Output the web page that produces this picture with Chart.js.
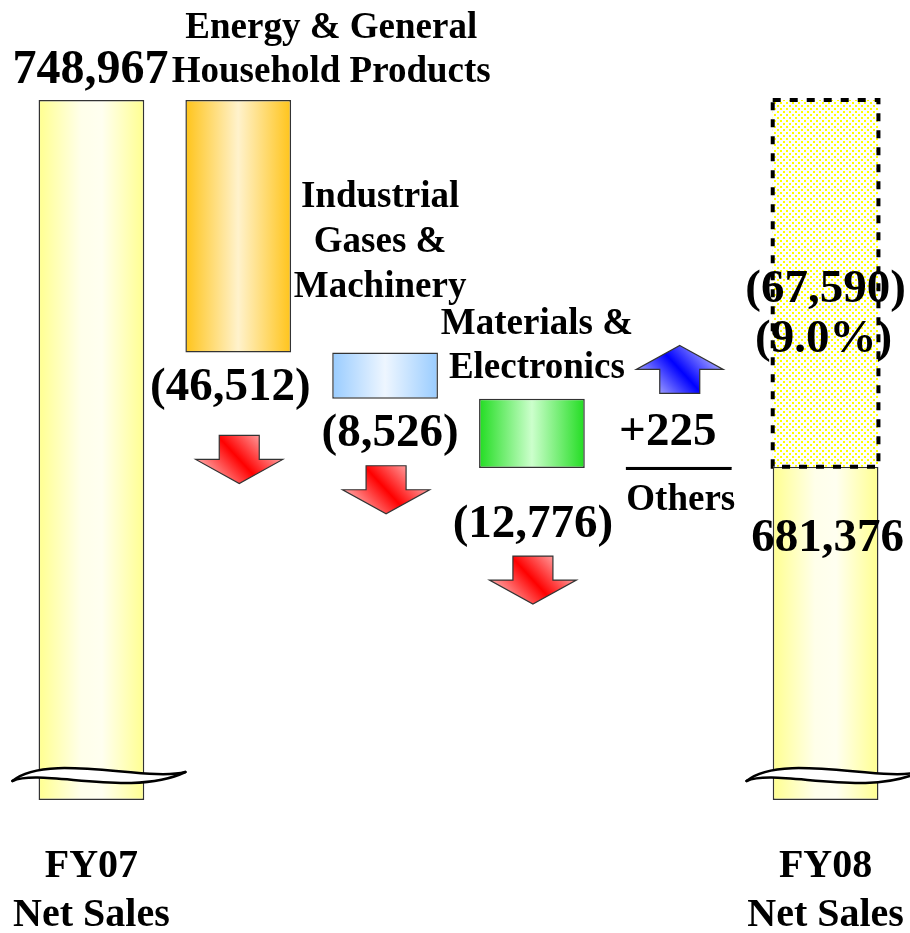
<!DOCTYPE html>
<html><head><meta charset="utf-8">
<script src="https://cdn.jsdelivr.net/npm/chart.js@4"></script>
<style>html,body{margin:0;padding:0;background:#fff;} canvas{display:block}</style>
</head><body>
<canvas id="c" width="910" height="933"></canvas>
<script>
// ---- data ----
const categories = ['FY07 Net Sales', 'Energy & General Household Products', 'Industrial Gases & Machinery', 'Materials & Electronics', 'Others', 'FY08 Net Sales'];
const startTotal = 748967;
const changes = [-46512, -8526, -12776, 225];
const endTotal = 681376;
const gapValue = 67590;
const axisMin = 620000;
const axisMax = 748967;
const valueLabels = ['748,967', '(46,512)', '(8,526)', '(12,776)', '+225', '681,376'];
const nameLines = [['FY07', 'Net Sales'], ['Energy & General', 'Household Products'], ['Industrial', 'Gases &', 'Machinery'], ['Materials &', 'Electronics'], ['Others'], ['FY08', 'Net Sales']];
const gapLabels = ['(67,590)', '(9.0%)'];

// floating ranges built from the values
const ranges = [[axisMin, startTotal]];
let running = startTotal;
changes.forEach(c => { const nxt = running + c; ranges.push([Math.min(running, nxt), Math.max(running, nxt)]); running = nxt; });
ranges.push([axisMin, endTotal]);
const gapData = categories.map((_, i) => i === categories.length - 1 ? [endTotal, endTotal + gapValue] : null);

// ---- styles ----
const gradStops = [
  [[0, '#ffff90'], [0.4, '#ffffea'], [0.6, '#fffff0'], [1, '#ffff90']],
  [[0, '#ffc41a'], [0.5, '#fff2cc'], [1, '#ffc41a']],
  [[0, '#99ccff'], [0.5, '#eef6ff'], [1, '#99ccff']],
  [[0, '#22dd22'], [0.5, '#ccffcc'], [1, '#22dd22']],
  [[0, '#000000'], [1, '#000000']],
  [[0, '#ffff90'], [0.4, '#ffffea'], [0.6, '#fffff0'], [1, '#ffff90']]
];
const FONT = '"Liberation Serif", "Times New Roman", serif';

function barFill(context) {
  const chart = context.chart;
  const area = chart.chartArea;
  const i = context.dataIndex;
  const stops = gradStops[i];
  if (!area || !chart.scales.x) return stops[0][1];
  const cx = chart.scales.x.getPixelForValue(i);
  const half = (chart.scales.x.width / categories.length) * 0.72 / 2;
  const g = chart.ctx.createLinearGradient(cx - half, 0, cx + half, 0);
  stops.forEach(s => g.addColorStop(s[0], s[1]));
  return g;
}

function dotPattern() {
  const c = document.createElement('canvas');
  c.width = 6; c.height = 6;
  const x = c.getContext('2d');
  x.fillStyle = '#ffffff'; x.fillRect(0, 0, 6, 6);
  x.fillStyle = '#ffff00';
  x.fillRect(0, 0, 2, 2);
  x.fillRect(3, 3, 2, 2);
  return x.createPattern(c, 'repeat');
}

// wave (axis break) shape, relative to bar centre and plot bottom
const waveL = [-79, -19], waveR = [94, -28];
const waveUpperCP = [[-45, -48], [55, -18]];
const waveLowerCP = [[-50, -32], [40, -2]];

function wavePath(ctx, cx, by, cp, reverse) {
  const a = reverse ? waveR : waveL, b = reverse ? waveL : waveR;
  const c1 = reverse ? cp[1] : cp[0], c2 = reverse ? cp[0] : cp[1];
  if (!reverse) ctx.moveTo(cx + a[0], by + a[1]);
  ctx.bezierCurveTo(cx + c1[0], by + c1[1], cx + c2[0], by + c2[1], cx + b[0], by + b[1]);
}

function drawWave(ctx, cx, by) {
  ctx.save();
  ctx.beginPath();
  wavePath(ctx, cx, by, waveUpperCP, false);
  wavePath(ctx, cx, by, waveLowerCP, true);
  ctx.closePath();
  ctx.fillStyle = '#ffffff';
  ctx.fill();
  ctx.lineWidth = 2.5; ctx.strokeStyle = '#000'; ctx.lineCap = 'round';
  ctx.beginPath(); wavePath(ctx, cx, by, waveUpperCP, false); ctx.stroke();
  ctx.beginPath(); wavePath(ctx, cx, by, waveLowerCP, false); ctx.stroke();
  ctx.restore();
}

function drawArrow(ctx, cx, top, dir, c1, c2) {
  const sw = 20, hw = 43.5, sl = 24, hl = 24;
  ctx.save();
  ctx.beginPath();
  if (dir > 0) { // down
    ctx.moveTo(cx - sw, top); ctx.lineTo(cx + sw, top); ctx.lineTo(cx + sw, top + sl);
    ctx.lineTo(cx + hw, top + sl); ctx.lineTo(cx, top + sl + hl); ctx.lineTo(cx - hw, top + sl);
    ctx.lineTo(cx - sw, top + sl); ctx.closePath();
  } else { // up, top = tip
    ctx.moveTo(cx, top); ctx.lineTo(cx + hw, top + hl); ctx.lineTo(cx + sw, top + hl);
    ctx.lineTo(cx + sw, top + hl + sl); ctx.lineTo(cx - sw, top + hl + sl); ctx.lineTo(cx - sw, top + hl);
    ctx.lineTo(cx - hw, top + hl); ctx.closePath();
  }
  const g = ctx.createLinearGradient(cx - hw * 0.6, top + sl + hl, cx + hw * 0.6, top);
  g.addColorStop(0, c2); g.addColorStop(0.5, c1); g.addColorStop(1, c2);
  ctx.fillStyle = g; ctx.fill();
  ctx.lineWidth = 1.2; ctx.strokeStyle = '#333'; ctx.stroke();
  ctx.restore();
}

function text(ctx, str, x, y, size) {
  ctx.font = 'bold ' + size + 'px ' + FONT;
  ctx.fillStyle = '#000';
  ctx.textAlign = 'center';
  ctx.textBaseline = 'alphabetic';
  ctx.fillText(str, x, y);
}

const annotations = {
  id: 'annotations',
  afterDatasetsDraw(chart) {
    const ctx = chart.ctx;
    const bars = chart.getDatasetMeta(0).data;
    const gap = chart.getDatasetMeta(1).data[5];
    const bottom = chart.chartArea.bottom;
    const topOf = b => Math.min(b.y, b.base);
    const botOf = b => Math.max(b.y, b.base);

    // Others line
    const oth = bars[4];
    const ly = (oth.y + oth.base) / 2 + 1;
    ctx.save();
    ctx.strokeStyle = '#000'; ctx.lineWidth = 3;
    ctx.beginPath(); ctx.moveTo(oth.x - oth.width / 2, ly); ctx.lineTo(oth.x + oth.width / 2, ly); ctx.stroke();
    ctx.restore();

    // waves
    drawWave(ctx, bars[0].x, bottom);
    drawWave(ctx, bars[5].x, bottom);

    // arrows
    const arrowOffsets = [83, 67, 88];
    for (let k = 1; k <= 3; k++) {
      drawArrow(ctx, bars[k].x + 1, botOf(bars[k]) + arrowOffsets[k - 1], 1, '#ff0000', '#ffb0b0');
    }
    drawArrow(ctx, oth.x + 1, ly - 123, -1, '#0000ff', '#b0b0ff');

    // texts
    const NS = 37, VS = 47;
    text(ctx, valueLabels[0], bars[0].x - 1, topOf(bars[0]) - 17, 48);
    text(ctx, valueLabels[1], bars[1].x - 8, botOf(bars[1]) + 48, VS);
    text(ctx, valueLabels[2], bars[2].x + 5, botOf(bars[2]) + 47, VS);
    text(ctx, valueLabels[3], bars[3].x + 1, botOf(bars[3]) + 69, VS);
    text(ctx, valueLabels[4], oth.x - 11, ly - 23, VS);
    text(ctx, valueLabels[5], bars[5].x + 2, topOf(bars[5]) + 84, VS);

    text(ctx, nameLines[0][0], bars[0].x, bottom + 77, 40);
    text(ctx, nameLines[0][1], bars[0].x, bottom + 126, 40);
    text(ctx, nameLines[5][0], bars[5].x, bottom + 77, 40);
    text(ctx, nameLines[5][1], bars[5].x, bottom + 126, 40);
    nameLines[1].forEach((s, j) => text(ctx, s, bars[1].x + 93, topOf(bars[1]) - 62 + j * 44, NS));
    nameLines[2].forEach((s, j) => text(ctx, s, bars[2].x - 5, topOf(bars[2]) - 145 + j * 45, NS));
    nameLines[3].forEach((s, j) => text(ctx, s, bars[3].x + 5, topOf(bars[3]) - 65 + j * 44, NS));
    text(ctx, nameLines[4][0], oth.x + 2, ly + 42, NS);

    // gap: text then dashed border
    const gt = topOf(gap), gb = botOf(gap);
    text(ctx, gapLabels[0], gap.x, gt + 202, VS);
    text(ctx, gapLabels[1], gap.x - 2, gt + 252, VS);
    ctx.save();
    ctx.strokeStyle = '#000'; ctx.lineWidth = 4; ctx.setLineDash([8, 9]);
    ctx.strokeRect(gap.x - gap.width / 2, gt, gap.width, gb - gt);
    ctx.restore();
  }
};

new Chart(document.getElementById('c'), {
  type: 'bar',
  data: {
    labels: categories,
    datasets: [
      { data: ranges, backgroundColor: barFill, borderColor: '#333333', borderWidth: 1.5, borderSkipped: false, barPercentage: 0.72, categoryPercentage: 1, grouped: false, order: 2 },
      { data: gapData, backgroundColor: dotPattern(), borderWidth: 0, barPercentage: 0.72, categoryPercentage: 1, grouped: false, order: 1 }
    ]
  },
  options: {
    responsive: false,
    animation: false,
    layout: { padding: { left: 18, right: 11, top: 100, bottom: 133 } },
    scales: {
      x: { display: false },
      y: { display: false, min: axisMin, max: axisMax }
    },
    plugins: { legend: { display: false }, tooltip: { enabled: false } }
  },
  plugins: [annotations]
});
</script>
</body></html>
